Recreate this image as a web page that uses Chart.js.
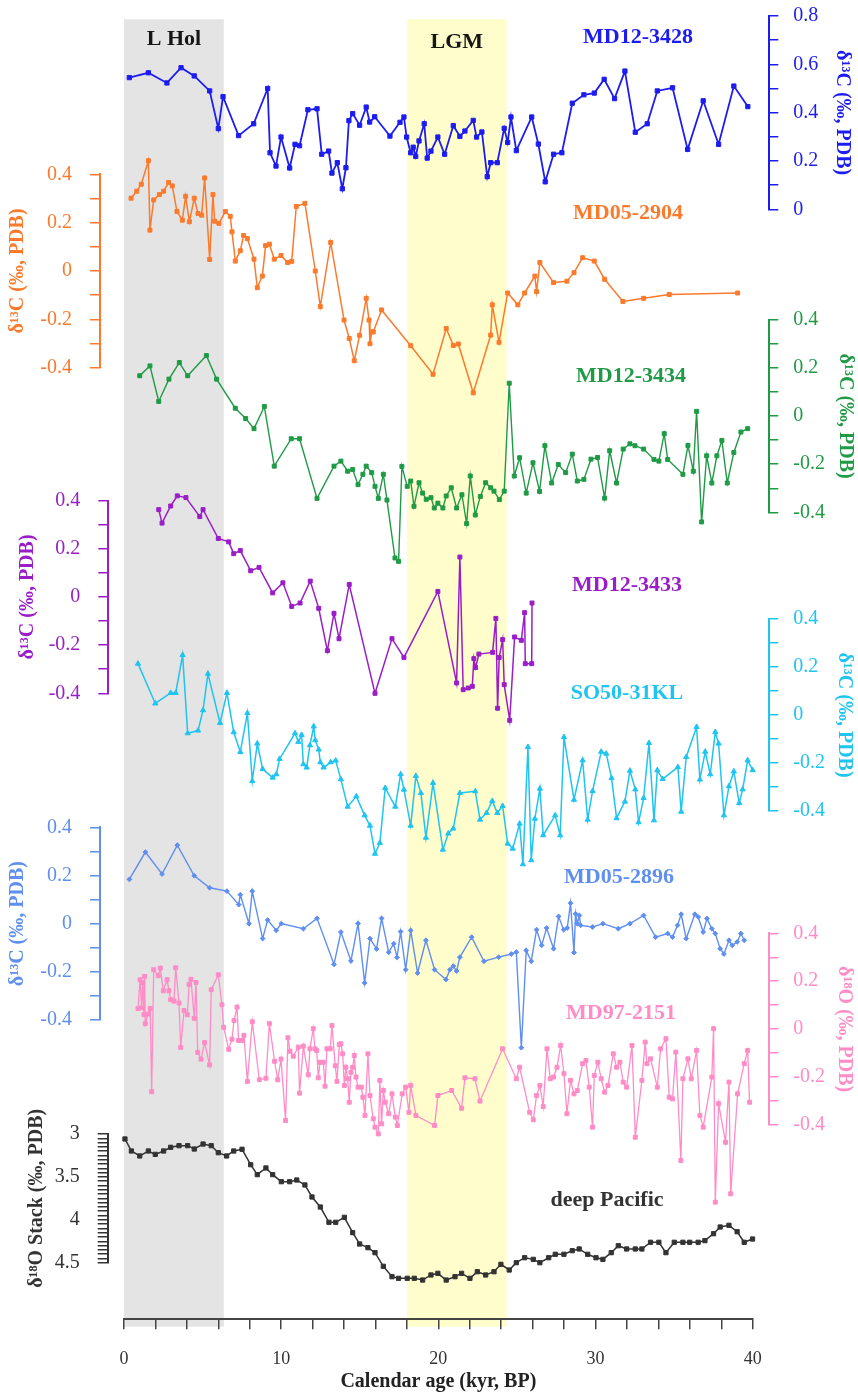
<!DOCTYPE html>
<html>
<head>
<meta charset="utf-8">
<script src="https://cdn.jsdelivr.net/npm/chart.js@4.4.1/dist/chart.umd.min.js"></script>
<style>
  html, body { margin: 0; padding: 0; background: #fff; }
  canvas { display: block; }
</style>
</head>
<body>
<canvas id="c" width="858" height="1394"></canvas>
<script>
// ---------- records: [calendar age (kyr BP), value] ----------
const MD12_3428 = [[0.34,0.545],[1.55,0.565],[2.73,0.523],[3.63,0.586],[4.47,0.552],[5.45,0.49],[6.00,0.334],[6.30,0.466],[7.29,0.305],[8.25,0.354],[9.14,0.50],[9.29,0.234],[9.67,0.179],[9.99,0.299],[10.54,0.171],[10.88,0.269],[11.17,0.263],[11.70,0.412],[12.28,0.416],[12.58,0.228],[13.02,0.241],[13.23,0.150],[13.57,0.193],[13.89,0.085],[14.12,0.172],[14.31,0.367],[14.55,0.396],[14.99,0.348],[15.41,0.423],[15.63,0.361],[15.95,0.383],[16.92,0.303],[17.56,0.36],[17.81,0.382],[17.98,0.299],[18.24,0.234],[18.40,0.257],[18.56,0.219],[18.77,0.283],[19.10,0.354],[19.29,0.212],[19.53,0.241],[19.97,0.299],[20.40,0.228],[20.95,0.346],[21.37,0.302],[21.69,0.324],[22.22,0.368],[22.43,0.299],[22.77,0.32],[23.11,0.135],[23.33,0.193],[23.75,0.193],[24.19,0.335],[24.41,0.277],[24.62,0.382],[24.96,0.243],[25.94,0.382],[26.36,0.27],[26.80,0.114],[27.33,0.228],[27.86,0.234],[28.52,0.439],[29.26,0.474],[29.92,0.481],[30.55,0.538],[31.21,0.458],[31.87,0.572],[32.53,0.319],[33.29,0.354],[33.93,0.49],[34.90,0.503],[35.86,0.248],[36.85,0.449],[37.83,0.269],[38.80,0.51],[39.69,0.425]];

const MD05_2904 = [[0.45,0.301],[0.81,0.33],[1.10,0.359],[1.55,0.456],[1.65,0.169],[1.89,0.294],[2.25,0.316],[2.52,0.33],[2.84,0.366],[3.07,0.352],[3.37,0.246],[3.71,0.21],[3.92,0.309],[4.16,0.204],[4.47,0.301],[4.71,0.238],[4.94,0.231],[5.13,0.385],[5.45,0.048],[5.66,0.316],[5.77,0.206],[6.04,0.197],[6.45,0.246],[6.76,0.226],[6.87,0.162],[7.08,0.041],[7.40,0.084],[7.61,0.147],[7.85,0.134],[8.27,0.049],[8.48,-0.069],[8.80,-0.021],[9.01,0.105],[9.25,0.111],[9.56,0.049],[9.99,0.064],[10.41,0.035],[10.67,0.04],[10.96,0.267],[11.51,0.28],[12.17,0.0],[12.49,-0.147],[13.15,0.118],[14.00,-0.203],[14.33,-0.279],[14.65,-0.371],[14.99,-0.266],[15.41,-0.113],[15.59,-0.203],[15.65,-0.301],[15.76,-0.252],[15.86,-0.252],[16.39,-0.161],[18.24,-0.309],[19.66,-0.427],[20.50,-0.238],[20.95,-0.308],[21.27,-0.302],[22.22,-0.504],[23.33,-0.265],[23.43,-0.14],[23.86,-0.295],[24.41,-0.091],[25.06,-0.14],[25.49,-0.091],[26.14,-0.021],[26.25,-0.085],[26.46,0.035],[27.33,-0.048],[28.18,-0.042],[28.63,-0.007],[29.18,0.055],[29.92,0.041],[30.58,-0.034],[31.74,-0.126],[33.06,-0.113],[34.69,-0.097],[39.04,-0.091]];

const MD12_3434 = [[1.00,0.168],[1.65,0.209],[2.21,0.061],[2.86,0.154],[3.52,0.223],[4.05,0.168],[5.24,0.252],[5.89,0.154],[7.08,0.033],[7.74,-0.01],[8.27,-0.052],[8.93,0.04],[9.56,-0.208],[10.64,-0.094],[11.17,-0.094],[12.28,-0.342],[13.36,-0.208],[13.80,-0.187],[14.23,-0.229],[14.55,-0.222],[14.89,-0.285],[15.20,-0.242],[15.41,-0.208],[15.76,-0.235],[15.97,-0.292],[16.18,-0.342],[16.50,-0.242],[16.73,-0.349],[17.24,-0.59],[17.47,-0.604],[17.68,-0.209],[18.02,-0.292],[18.24,-0.27],[18.45,-0.375],[18.77,-0.277],[19.00,-0.32],[19.23,-0.346],[19.53,-0.339],[19.74,-0.382],[19.97,-0.362],[20.29,-0.382],[20.50,-0.332],[20.82,-0.298],[21.16,-0.382],[21.50,-0.327],[21.80,-0.447],[22.03,-0.249],[22.35,-0.411],[22.67,-0.334],[23.01,-0.277],[23.33,-0.298],[23.54,-0.312],[23.88,-0.347],[24.19,-0.312],[24.51,0.137],[24.83,-0.249],[25.17,-0.173],[25.59,-0.32],[26.02,-0.194],[26.44,-0.313],[26.78,-0.123],[27.21,-0.278],[27.63,-0.201],[28.10,-0.235],[28.52,-0.158],[28.84,-0.27],[29.26,-0.263],[29.71,-0.179],[30.13,-0.172],[30.58,-0.341],[30.90,-0.144],[31.34,-0.278],[31.76,-0.137],[32.19,-0.115],[32.51,-0.123],[33.06,-0.137],[33.72,-0.18],[34.03,-0.187],[34.37,-0.073],[34.59,-0.18],[35.56,-0.242],[35.88,-0.122],[36.22,-0.229],[36.43,0.02],[36.75,-0.44],[37.07,-0.165],[37.40,-0.278],[37.72,-0.165],[38.04,-0.101],[38.38,-0.278],[38.80,-0.151],[39.25,-0.066],[39.68,-0.052]];

const MD12_3433 = [[2.21,0.363],[2.42,0.307],[2.97,0.378],[3.39,0.42],[3.94,0.413],[4.82,0.334],[5.03,0.363],[6.00,0.243],[6.66,0.229],[6.98,0.18],[7.40,0.193],[8.06,0.109],[8.59,0.123],[9.46,0.017],[10.11,0.059],[10.67,-0.039],[11.20,-0.025],[11.85,0.066],[12.39,-0.047],[12.94,-0.223],[13.36,-0.068],[13.68,-0.173],[14.33,0.052],[15.97,-0.40],[17.05,-0.173],[17.81,-0.251],[19.97,0.023],[21.16,-0.357],[21.37,0.166],[21.58,-0.385],[21.90,-0.378],[22.16,-0.371],[22.26,-0.256],[22.37,-0.293],[22.58,-0.237],[23.45,-0.23],[23.66,-0.089],[23.77,-0.462],[23.87,-0.251],[24.09,-0.177],[24.19,-0.364],[24.54,-0.512],[24.85,-0.166],[25.28,-0.18],[25.49,-0.065],[25.53,-0.277],[25.94,-0.277],[25.96,-0.025]];

const SO50_31KL = [[0.89,0.214],[1.99,0.048],[2.97,0.092],[3.29,0.092],[3.73,0.25],[4.05,-0.076],[4.71,-0.065],[5.03,0.02],[5.34,0.172],[6.11,-0.033],[6.55,0.092],[6.98,-0.072],[7.40,-0.154],[7.85,0.008],[8.16,-0.275],[8.48,-0.119],[8.82,-0.225],[9.46,-0.261],[9.69,-0.247],[9.90,-0.183],[10.88,-0.076],[11.09,-0.112],[11.30,-0.083],[11.41,-0.205],[11.62,-0.219],[11.83,-0.126],[12.07,-0.048],[12.17,-0.105],[12.39,-0.144],[12.49,-0.197],[12.70,-0.219],[13.15,-0.197],[13.47,-0.19],[13.80,-0.268],[14.23,-0.382],[14.78,-0.339],[15.31,-0.418],[15.65,-0.461],[15.97,-0.578],[16.28,-0.533],[16.62,-0.304],[17.26,-0.382],[17.60,-0.247],[17.81,-0.311],[18.24,-0.461],[18.57,-0.254],[18.89,-0.325],[19.21,-0.511],[19.66,-0.283],[20.29,-0.561],[20.63,-0.494],[20.95,-0.473],[21.37,-0.325],[22.35,-0.318],[22.65,-0.436],[23.07,-0.408],[23.43,-0.358],[23.75,-0.408],[24.09,-0.379],[24.41,-0.536],[24.73,-0.557],[25.17,-0.453],[25.38,-0.622],[25.70,-0.133],[25.91,-0.605],[26.14,-0.432],[26.46,-0.307],[26.67,-0.501],[27.43,-0.418],[27.75,-0.501],[27.99,-0.092],[28.63,-0.353],[29.18,-0.189],[29.50,-0.436],[29.81,-0.317],[30.36,-0.153],[30.68,-0.161],[31.02,-0.263],[31.34,-0.43],[31.87,-0.361],[32.19,-0.232],[32.53,-0.31],[32.74,-0.447],[33.06,-0.346],[33.40,-0.117],[33.72,-0.439],[33.93,-0.23],[34.27,-0.267],[35.24,-0.217],[35.45,-0.403],[35.77,-0.175],[36.43,-0.05],[36.64,-0.269],[36.98,-0.153],[37.30,-0.247],[37.62,-0.071],[37.83,-0.119],[38.17,-0.418],[38.49,-0.297],[38.80,-0.235],[39.14,-0.367],[39.36,-0.31],[39.68,-0.189],[40.00,-0.23]];

const MD05_2896 = [[0.34,0.184],[1.36,0.297],[2.42,0.206],[3.39,0.326],[4.47,0.199],[5.45,0.149],[6.55,0.135],[7.30,0.079],[7.40,0.12],[7.95,0.0],[8.16,0.135],[8.82,-0.062],[9.14,0.015],[9.69,-0.028],[10.01,0.0],[11.41,-0.021],[12.28,0.022],[13.36,-0.169],[13.80,-0.035],[14.44,-0.155],[14.89,0.001],[15.31,-0.246],[15.65,-0.062],[16.07,-0.105],[16.39,0.022],[16.84,-0.119],[17.16,-0.083],[17.37,-0.14],[17.60,-0.033],[17.92,-0.191],[18.24,-0.028],[18.68,-0.205],[19.21,-0.069],[19.76,-0.191],[20.48,-0.232],[20.74,-0.191],[20.95,-0.176],[21.16,-0.197],[21.37,-0.139],[22.12,-0.056],[22.90,-0.156],[23.84,-0.139],[24.64,-0.126],[24.96,-0.118],[25.28,-0.515],[25.59,-0.111],[25.91,-0.156],[26.25,-0.025],[26.57,-0.09],[26.89,-0.018],[27.33,-0.104],[27.65,0.03],[27.97,-0.025],[28.20,-0.018],[28.41,0.085],[28.63,-0.12],[28.73,0.041],[28.84,0.0],[28.97,0.034],[29.05,-0.007],[29.81,-0.014],[30.47,0.0],[31.45,-0.021],[32.19,0.0],[33.06,0.034],[33.82,-0.056],[34.59,-0.041],[34.90,-0.056],[35.22,-0.007],[35.45,0.039],[35.77,-0.062],[36.32,0.039],[36.53,0.028],[36.85,-0.035],[37.09,0.021],[37.40,-0.021],[37.62,-0.041],[37.93,-0.104],[38.17,-0.126],[38.49,-0.069],[38.70,-0.09],[39.01,-0.076],[39.25,-0.041],[39.46,-0.069]];

const MD97_2151 = [[0.89,0.086],[1.02,0.206],[1.12,0.089],[1.19,0.194],[1.27,0.06],[1.31,0.22],[1.35,0.023],[1.53,0.063],[1.67,0.086],[1.76,-0.261],[1.89,0.248],[2.18,0.223],[2.31,0.255],[2.50,0.16],[2.74,0.206],[2.86,0.16],[2.97,0.123],[3.18,0.117],[3.29,0.256],[3.50,0.109],[3.61,-0.076],[3.82,0.078],[4.03,0.06],[4.14,0.187],[4.26,0.208],[4.47,0.045],[4.58,0.195],[4.69,-0.097],[4.90,-0.125],[5.13,-0.056],[5.45,-0.149],[5.55,0.165],[6.00,0.227],[6.23,0.102],[6.34,0.008],[6.66,-0.084],[6.87,-0.042],[7.00,0.036],[7.19,0.092],[7.29,-0.047],[7.53,-0.047],[7.63,-0.026],[7.85,-0.218],[8.16,0.031],[8.61,-0.211],[9.03,-0.205],[9.25,0.023],[9.58,-0.134],[9.78,-0.211],[9.99,-0.125],[10.28,-0.381],[10.43,-0.036],[10.56,-0.092],[10.77,-0.113],[11.09,-0.075],[11.17,-0.267],[11.41,-0.071],[11.72,-0.19],[11.83,-0.082],[12.04,0.002],[12.15,-0.082],[12.26,-0.089],[12.36,-0.203],[12.47,-0.138],[12.68,-0.138],[12.79,-0.238],[12.91,-0.082],[13.12,-0.082],[13.23,0.015],[13.44,-0.153],[13.55,-0.218],[13.70,-0.064],[13.80,-0.061],[13.91,-0.103],[14.02,-0.235],[14.12,-0.159],[14.23,-0.207],[14.33,-0.305],[14.44,-0.18],[14.55,-0.159],[14.65,-0.11],[14.76,-0.2],[14.89,-0.242],[15.10,-0.242],[15.20,-0.284],[15.33,-0.36],[15.52,-0.103],[15.65,-0.277],[15.86,-0.374],[15.97,-0.409],[16.18,-0.437],[16.28,-0.214],[16.39,-0.395],[16.50,-0.256],[16.62,-0.305],[16.84,-0.353],[17.05,-0.27],[17.26,-0.367],[17.39,-0.402],[17.70,-0.27],[17.92,-0.242],[18.13,-0.347],[18.24,-0.235],[18.57,-0.36],[19.76,-0.402],[19.97,-0.277],[20.85,-0.256],[21.48,-0.33],[21.69,-0.203],[22.33,-0.207],[22.65,-0.3],[24.09,-0.082],[24.96,-0.207],[25.17,-0.159],[25.81,-0.347],[26.04,-0.378],[26.25,-0.277],[26.46,-0.235],[26.67,-0.323],[26.91,-0.082],[27.12,-0.207],[27.33,-0.2],[27.55,-0.159],[27.78,-0.068],[27.99,-0.186],[28.18,-0.353],[28.41,-0.214],[28.63,-0.27],[28.84,-0.256],[29.18,-0.144],[29.39,-0.131],[29.60,-0.242],[29.81,-0.409],[29.92,-0.193],[30.15,-0.138],[30.36,-0.207],[30.58,-0.263],[30.79,-0.235],[31.13,-0.103],[31.34,-0.159],[31.55,-0.138],[31.76,-0.221],[31.98,-0.242],[32.32,-0.068],[32.53,-0.451],[32.95,-0.214],[33.16,-0.054],[33.27,-0.144],[33.50,-0.124],[33.93,-0.242],[34.14,-0.082],[34.48,-0.04],[34.69,-0.284],[34.90,-0.291],[35.11,-0.096],[35.43,-0.548],[35.56,-0.207],[35.88,-0.124],[36.09,-0.207],[36.43,-0.089],[36.64,-0.36],[36.85,-0.409],[37.40,-0.2],[37.51,0.002],[37.62,-0.722],[37.83,-0.311],[38.27,-0.472],[38.49,-0.221],[38.60,-0.687],[39.04,-0.27],[39.46,-0.144],[39.68,-0.089],[39.80,-0.305]];

const DEEP_PACIFIC = [[0.06,3.058],[0.47,3.198],[1.00,3.256],[1.55,3.198],[1.99,3.237],[2.52,3.198],[2.97,3.155],[3.50,3.136],[4.05,3.136],[4.47,3.175],[5.03,3.117],[5.55,3.136],[6.00,3.218],[6.53,3.256],[6.98,3.198],[7.51,3.178],[8.06,3.358],[8.48,3.474],[9.03,3.396],[9.46,3.474],[10.01,3.556],[10.54,3.556],[10.99,3.536],[11.51,3.594],[11.96,3.734],[12.49,3.851],[13.04,4.029],[13.47,4.029],[14.02,3.971],[14.55,4.15],[14.99,4.282],[15.52,4.325],[15.97,4.383],[16.50,4.542],[17.05,4.663],[17.47,4.682],[18.02,4.682],[18.47,4.682],[19.00,4.702],[19.53,4.643],[19.97,4.624],[20.50,4.702],[21.06,4.663],[21.48,4.624],[22.01,4.682],[22.48,4.605],[23.01,4.643],[23.54,4.605],[23.98,4.519],[24.51,4.585],[24.96,4.5],[25.49,4.442],[26.04,4.461],[26.46,4.5],[27.02,4.442],[27.44,4.402],[27.99,4.402],[28.52,4.36],[28.96,4.34],[29.50,4.402],[30.03,4.442],[30.47,4.461],[31.00,4.383],[31.45,4.302],[31.98,4.34],[32.53,4.34],[32.95,4.34],[33.50,4.262],[34.03,4.262],[34.48,4.383],[35.01,4.262],[35.56,4.262],[35.99,4.262],[36.53,4.262],[36.96,4.243],[37.51,4.162],[37.93,4.084],[38.49,4.064],[39.01,4.139],[39.46,4.262],[39.99,4.224]];

// ---------- axis ticks and labels ----------
const AGE_TICKS   = [0,2,4,6,8,10,12,14,16,18,20,22,24,26,28,30,32,34,36,38,40];
const AGE_LABELS  = [0,10,20,30,40];
const D13C_TICKS  = [-0.4,-0.3,-0.2,-0.1,0,0.1,0.2,0.3,0.4];
const D13C_LABELS = [-0.4,-0.2,0,0.2,0.4];
const TOP_TICKS   = [0,0.1,0.2,0.3,0.4,0.5,0.6,0.7,0.8];
const TOP_LABELS  = [0,0.2,0.4,0.6,0.8];
const STACK_TICKS = [3,3.05,3.1,3.15,3.2,3.25,3.3,3.35,3.4,3.45,3.5,3.55,3.6,3.65,3.7,3.75,3.8,3.85,3.9,3.95,4,4.05,4.1,4.15,4.2,4.25,4.3,4.35,4.4,4.45,4.5];
const STACK_LABELS = [3,3.5,4,4.5];

// shaded intervals (kyr BP)
const BANDS = [
  { label: 'L Hol', from: 0,  to: 6.35,  color: '#e4e4e4', labelY: 39 },
  { label: 'LGM',   from: 18, to: 24.35, color: '#fefdcb', labelY: 42 }
];

// ---------- look and placement ----------
const SERIF = '"Liberation Serif", "Times New Roman", serif';
const T13 = 'δ¹³C (‰, PDB)';

const SERIES = [
  { name: 'MD12-3428', data: MD12_3428, axis: 'y3428', color: '#1c1cf0', point: 'rect', radius: 3, line: 1.8,
    ticks: TOP_TICKS, labels: TOP_LABELS, title: T13 },
  { name: 'MD05-2904', data: MD05_2904, axis: 'y2904', color: '#fb7a2c', point: 'rect', radius: 2.8, line: 1.5,
    ticks: D13C_TICKS, labels: D13C_LABELS, title: T13 },
  { name: 'MD12-3434', data: MD12_3434, axis: 'y3434', color: '#1f9a45', point: 'rect', radius: 2.8, line: 1.4,
    ticks: D13C_TICKS, labels: D13C_LABELS, title: T13 },
  { name: 'MD12-3433', data: MD12_3433, axis: 'y3433', color: '#9a1ec8', point: 'rect', radius: 2.8, line: 1.5,
    ticks: D13C_TICKS, labels: D13C_LABELS, title: T13 },
  { name: 'SO50-31KL', data: SO50_31KL, axis: 'y31kl', color: '#1fc4f0', point: 'triangle', radius: 3, line: 1.5,
    ticks: D13C_TICKS, labels: D13C_LABELS, title: T13 },
  { name: 'MD05-2896', data: MD05_2896, axis: 'y2896', color: '#5f8ff0', point: 'rectRot', radius: 2.4, line: 1.4,
    ticks: D13C_TICKS, labels: D13C_LABELS, title: T13 },
  { name: 'MD97-2151', data: MD97_2151, axis: 'y2151', color: '#ff8cc6', point: 'rect', radius: 2.8, line: 1.3,
    ticks: D13C_TICKS, labels: D13C_LABELS, title: 'δ¹⁸O (‰, PDB)' },
  { name: 'deep Pacific', data: DEEP_PACIFIC, axis: 'yStack', color: '#333333', point: 'rect', radius: 3, line: 1.5,
    ticks: STACK_TICKS, labels: STACK_LABELS, title: 'δ¹⁸O Stack (‰, PDB)', reverse: true }
];

// pixel boxes for the axes: axis line x, pixel span of the value range, title centre x
const AXIS_BOX = {
  x:      { left: 124, right: 752.7, top: 1319.3, bottom: 1394 },
  y3428:  { side: 'right', line: 769.3, top: 16,    bottom: 209.3,  titleX: 842 },
  y2904:  { side: 'left',  line: 100,   top: 174.3, bottom: 367.7,  titleX: 18 },
  y3434:  { side: 'right', line: 769.3, top: 320,   bottom: 512.3,  titleX: 845 },
  y3433:  { side: 'left',  line: 108.3, top: 500.7, bottom: 693.3,  titleX: 28 },
  y31kl:  { side: 'right', line: 769.3, top: 619,   bottom: 811,    titleX: 844 },
  y2896:  { side: 'left',  line: 100,   top: 827.3, bottom: 1020,   titleX: 18 },
  y2151:  { side: 'right', line: 769.3, top: 933.3, bottom: 1125,   titleX: 844 },
  yStack: { side: 'left',  line: 107.7, top: 1134,  bottom: 1262.7, titleX: 37 }
};
const BAND_TOP = 19.3, BAND_BOTTOM = 1326.7;
const TITLE_HALF = 12; // half the title line height (20px * 1.2 / 2)

// record names drawn beside each curve: [text, centre x, centre y]
const NAME_TAGS = [
  ['MD12-3428', 638, 37], ['MD05-2904', 628, 213], ['MD12-3434', 631, 376], ['MD12-3433', 627, 585],
  ['SO50-31KL', 627, 693], ['MD05-2896', 619, 877], ['MD97-2151', 621, 1013], ['deep Pacific', 607, 1200]
];

// ---------- chart ----------
const sameValue = (a, b) => Math.abs(a - b) < 1e-9;

function yScale(s) {
  const side = AXIS_BOX[s.axis].side;
  return {
    type: 'linear',
    position: side,
    reverse: !!s.reverse,
    min: Math.min(...s.ticks),
    max: Math.max(...s.ticks),
    afterBuildTicks: a => { a.ticks = s.ticks.map(v => ({ value: v })); },
    ticks: {
      autoSkip: false,
      color: s.color,
      font: { family: SERIF, size: 20 },
      padding: side === 'left' ? 18 : 15,
      callback: v => { const m = s.labels.find(l => sameValue(l, v)); return m === undefined ? '' : String(m); }
    },
    grid: { display: true, drawOnChartArea: false, drawTicks: true, tickLength: side === 'left' ? 10 : 9,
            color: s.color, lineWidth: 1.5 },
    border: { display: true, color: s.color, width: 2 },
    title: { display: true, text: s.title, color: s.color, padding: 0,
             font: { family: SERIF, size: 20, weight: 'bold' } }
  };
}

const scales = {
  x: {
    type: 'linear', position: 'bottom', min: 0, max: 40,
    afterBuildTicks: a => { a.ticks = AGE_TICKS.map(v => ({ value: v })); },
    ticks: {
      autoSkip: false, maxRotation: 0, color: '#333', padding: 19,
      font: { family: SERIF, size: 18 },
      callback: v => AGE_LABELS.some(l => sameValue(l, v)) ? String(v) : ''
    },
    grid: { display: true, drawOnChartArea: false, drawTicks: true, tickLength: 10, color: '#444', lineWidth: 1.5 },
    border: { display: true, color: '#444', width: 2 },
    title: { display: true, text: 'Calendar age (kyr, BP)', color: '#222', padding: 0,
             font: { family: SERIF, size: 20, weight: 'bold' } }
  }
};
SERIES.forEach(s => { scales[s.axis] = yScale(s); });

const datasets = SERIES.map(s => ({
  label: s.name,
  data: s.data.map(([x, y]) => ({ x, y })),
  xAxisID: 'x',
  yAxisID: s.axis,
  borderColor: s.color,
  backgroundColor: s.color,
  borderWidth: s.line,
  pointStyle: s.point,
  pointRadius: s.radius,
  pointHoverRadius: s.radius,
  pointBorderWidth: 1,
  pointBorderColor: s.color,
  pointBackgroundColor: s.color,
  tension: 0,
  fill: false,
  clip: false
}));

// white page, shaded intervals and their names, behind everything
const backdrop = {
  id: 'backdrop',
  beforeDraw(chart) {
    const { ctx } = chart;
    const xs = chart.scales.x;
    ctx.save();
    ctx.fillStyle = '#ffffff';
    ctx.fillRect(0, 0, chart.width, chart.height);
    BANDS.forEach(b => {
      const x0 = xs.getPixelForValue(b.from), x1 = xs.getPixelForValue(b.to);
      ctx.fillStyle = b.color;
      ctx.fillRect(x0, BAND_TOP, x1 - x0, BAND_BOTTOM - BAND_TOP);
      ctx.fillStyle = '#161616';
      ctx.font = `bold 22px ${SERIF}`;
      ctx.textAlign = 'center';
      ctx.textBaseline = 'middle';
      ctx.fillText(b.label, (x0 + x1) / 2, b.labelY);
    });
    ctx.restore();
  }
};

// every record gets its own vertical strip: move each axis into its box after layout
const placeAxes = {
  id: 'placeAxes',
  afterLayout(chart) {
    const xb = AXIS_BOX.x, xs = chart.scales.x;
    Object.assign(xs, { left: xb.left, right: xb.right, top: xb.top, bottom: xb.bottom,
                        width: xb.right - xb.left, height: xb.bottom - xb.top });
    xs.configure();
    SERIES.forEach(s => {
      const b = AXIS_BOX[s.axis], sc = chart.scales[s.axis];
      let left, right;
      if (b.side === 'left') { right = b.line; left = b.titleX - TITLE_HALF; }
      else { left = b.line; right = b.titleX + TITLE_HALF; }
      Object.assign(sc, { left, right, top: b.top, bottom: b.bottom, width: right - left, height: b.bottom - b.top });
      sc.configure();
    });
    chart.chartArea = { left: 0, top: 0, right: chart.width, bottom: chart.height,
                        width: chart.width, height: chart.height };
  }
};

// record names
const nameTags = {
  id: 'nameTags',
  afterDatasetsDraw(chart) {
    const { ctx } = chart;
    ctx.save();
    ctx.font = `bold 22px ${SERIF}`;
    ctx.textAlign = 'center';
    ctx.textBaseline = 'middle';
    NAME_TAGS.forEach(([text, x, y], i) => {
      ctx.fillStyle = SERIES[i].color;
      ctx.fillText(text, x, y);
    });
    ctx.restore();
  }
};

new Chart(document.getElementById('c'), {
  type: 'line',
  data: { datasets },
  options: {
    responsive: false,
    animation: false,
    devicePixelRatio: 1,
    events: [],
    layout: { padding: 0 },
    plugins: { legend: { display: false }, tooltip: { enabled: false } },
    scales
  },
  plugins: [backdrop, placeAxes, nameTags]
});
</script>
</body>
</html>
